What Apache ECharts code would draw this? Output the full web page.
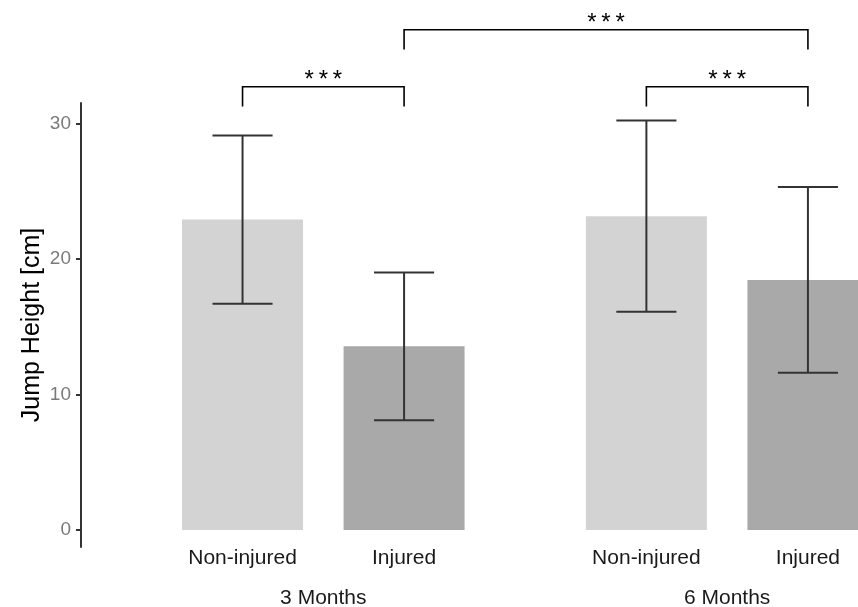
<!DOCTYPE html>
<html><head><meta charset="utf-8">
<script src="https://cdn.jsdelivr.net/npm/echarts@6/dist/echarts.min.js"></script>
<style>html,body{margin:0;padding:0;background:#fff}#c{width:858px;height:607px}</style>
</head><body><div id="c"></div>
<script>
// ---- data ----
const timepoints = ['3 Months', '6 Months'];
const groups = ['Non-injured', 'Injured'];
const means = [22.9, 13.55, 23.15, 18.45];   // order: 3M NI, 3M I, 6M NI, 6M I
const sds = [6.2, 5.45, 7.05, 6.85];
const yTicks = [0, 10, 20, 30];
const comparisons = [[0, 1], [1, 3], [2, 3]]; // bar index pairs
const sigLabels = ['***', '***', '***'];
const yAxisTitle = 'Jump Height [cm]';

// ---- layout (derived) ----
const xPos = [];
const xNames = [];
timepoints.forEach((t, ti) => groups.forEach((g, gi) => { xPos.push(1 + ti * 2.5 + gi); xNames.push(g); }));
const timeCenters = timepoints.map((t, ti) => 1.5 + ti * 2.5);
const colors = ['#d3d3d3', '#a9a9a9'];
const bracketLevel = [0, 1, 0];

const chart = echarts.init(document.getElementById('c'), null, {renderer: 'canvas'});
const xMin = 0, xMax = 4.81;
const option = {
  backgroundColor: '#fff',
  animation: false,
  grid: {left: 81, right: 0, top: 103, bottom: 60, outerBoundsMode: 'none', containLabel: false},
  xAxis: [{
    type: 'value', min: xMin, max: xMax,
    axisLine: {show: false}, axisTick: {show: false}, splitLine: {show: false},
    axisLabel: {
      customValues: xPos,
      formatter: v => { const i = xPos.findIndex(p => Math.abs(p - v) < 1e-6); return i >= 0 ? xNames[i] : ''; },
      color: '#1a1a1a', fontSize: 21, fontFamily: 'Liberation Sans, Arial', margin: 1
    }
  }, {
    type: 'value', min: xMin, max: xMax, position: 'bottom', offset: 40,
    axisLine: {show: false}, axisTick: {show: false}, splitLine: {show: false},
    axisLabel: {
      customValues: timeCenters,
      formatter: v => { const i = timeCenters.findIndex(p => Math.abs(p - v) < 1e-6); return i >= 0 ? timepoints[i] : ''; },
      color: '#1a1a1a', fontSize: 21, fontFamily: 'Liberation Sans, Arial', margin: 1
    }
  }],
  yAxis: {
    type: 'value', min: -1.25, max: 31.5,
    name: yAxisTitle, nameLocation: 'middle', nameGap: 36, nameMoveOverlap: false,
    nameTextStyle: {color: '#000', fontSize: 25, fontFamily: 'Liberation Sans, Arial'},
    axisLine: {show: true, lineStyle: {color: '#333', width: 2}},
    axisTick: {show: true, customValues: yTicks, length: 5, lineStyle: {color: '#333', width: 2}},
    axisLabel: {customValues: yTicks, color: '#7a7a7a', fontSize: 19, fontFamily: 'Liberation Sans, Arial', margin: 10},
    splitLine: {show: false}
  },
  series: [{
    type: 'bar', xAxisIndex: 0, barWidth: 121, z: 2,
    data: xPos.map((x, i) => ({value: [x, means[i]], itemStyle: {color: colors[i % 2]}}))
  }, {
    type: 'custom', xAxisIndex: 0, z: 5,
    data: xPos.map((x, i) => [x, means[i] - sds[i], means[i] + sds[i]]),
    encode: {x: 0, y: [1, 2]},
    renderItem: (params, api) => {
      const x = api.value(0), lo = api.value(1), hi = api.value(2);
      const pt = api.coord([x, hi]), pb = api.coord([x, lo]);
      const half = api.size([0.186, 0])[0];
      const st = {stroke: '#333', lineWidth: 2};
      return {type: 'group', children: [
        {type: 'line', shape: {x1: pt[0], y1: pt[1], x2: pb[0], y2: pb[1]}, style: st},
        {type: 'line', shape: {x1: pt[0] - half, y1: pt[1], x2: pt[0] + half, y2: pt[1]}, style: st},
        {type: 'line', shape: {x1: pb[0] - half, y1: pb[1], x2: pb[0] + half, y2: pb[1]}, style: st}
      ]};
    }
  }, {
    type: 'custom', xAxisIndex: 0, clip: false, z: 5,
    data: comparisons.map((c, i) => [xPos[c[0]], xPos[c[1]], bracketLevel[i]]),
    encode: {x: [0, 1]},
    renderItem: (params, api) => {
      const x1 = api.value(0), x2 = api.value(1), lev = api.value(2);
      const yb = 31.25 + lev * 4.2, yt = 32.7 + lev * 4.2;
      const a = api.coord([x1, yb]), b = api.coord([x1, yt]), c = api.coord([x2, yt]), d = api.coord([x2, yb]);
      return {type: 'group', children: [
        {type: 'polyline', shape: {points: [a, b, c, d]}, style: {stroke: '#000', lineWidth: 1.6, fill: null}},
        {type: 'text', style: {text: sigLabels[params.dataIndex].split('').join('\u2009'), x: (b[0] + c[0]) / 2, y: b[1] - 6,
          align: 'center', verticalAlign: 'middle', fontSize: 24, fontFamily: 'Liberation Sans, Arial', fill: '#000'}}
      ]};
    }
  }]
};
chart.setOption(option);
</script></body></html>
